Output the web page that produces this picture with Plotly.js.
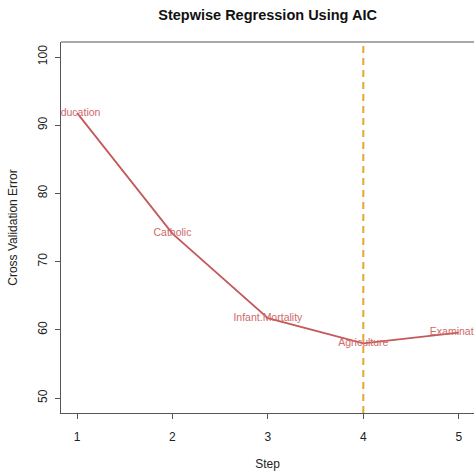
<!DOCTYPE html>
<html><head><meta charset="utf-8">
<script src="https://cdn.plot.ly/plotly-3.0.1.min.js"></script>
<style>html,body{margin:0;padding:0;background:#fff;}</style>
</head><body>
<div id="chart" style="width:474px;height:471px;"></div>
<script>
const steps = [1, 2, 3, 4, 5];
const cvError = [91.8, 74.1, 61.7, 58.0, 59.6];
const variables = ["Education", "Catholic", "Infant.Mortality", "Agriculture", "Examination"];
const bestStep = 4;
const xTicks = [1, 2, 3, 4, 5];
const yTicks = [50, 60, 70, 80, 90, 100];

const trace = {
  x: steps, y: cvError, text: variables,
  mode: 'lines+text', type: 'scatter',
  line: {color: '#C55858', width: 1.8},
  textposition: 'middle center',
  textfont: {family: 'Liberation Sans, Arial, sans-serif', size: 10.5, color: '#CD6A6A'},
  cliponaxis: true, hoverinfo: 'none'
};

const layout = {
  width: 474, height: 471,
  margin: {l: 61, r: 0, t: 42, b: 58},
  paper_bgcolor: '#fff', plot_bgcolor: '#fff',
  showlegend: false,
  font: {family: 'Liberation Sans, Arial, sans-serif', color: '#222'},
  title: {text: '<b>Stepwise Regression Using AIC</b>', font: {size: 14.5, color: '#111'},
          x: 0.5645, xanchor: 'center', y: 0.968, yanchor: 'middle'},
  xaxis: {
    range: [0.832, 5.16], tickvals: xTicks, ticktext: xTicks.map(String),
    showgrid: false, zeroline: false, showline: true, linecolor: '#555', linewidth: 1.2,
    ticks: 'outside', ticklen: 5, tickcolor: '#555', tickfont: {size: 12, color: '#222'},
    ticklabelstandoff: 7,
    title: {text: 'Step', font: {size: 12, color: '#222'}, standoff: 17}
  },
  yaxis: {
    range: [47.8, 102.2], tickvals: yTicks, ticktext: yTicks.map(String), tickangle: -90,
    showgrid: false, zeroline: false, showline: true, linecolor: '#555', linewidth: 1.2,
    ticks: 'outside', ticklen: 5, tickcolor: '#555', tickfont: {size: 12, color: '#222'},
    ticklabelstandoff: 3,
    title: {text: 'Cross Validation Error', font: {size: 12, color: '#222'}, standoff: 15}
  },
  shapes: [
    {type: 'line', xref: 'paper', yref: 'paper', x0: 0, x1: 1, y0: 1, y1: 1,
     line: {color: '#555', width: 1.2}},
    {type: 'line', xref: 'x', yref: 'paper', x0: bestStep, x1: bestStep, y0: 0, y1: 1,
     line: {color: '#E5A632', width: 2, dash: '7px,5px'}}
  ]
};

Plotly.newPlot('chart', [trace], layout, {displayModeBar: false, staticPlot: true});
</script>
</body></html>
